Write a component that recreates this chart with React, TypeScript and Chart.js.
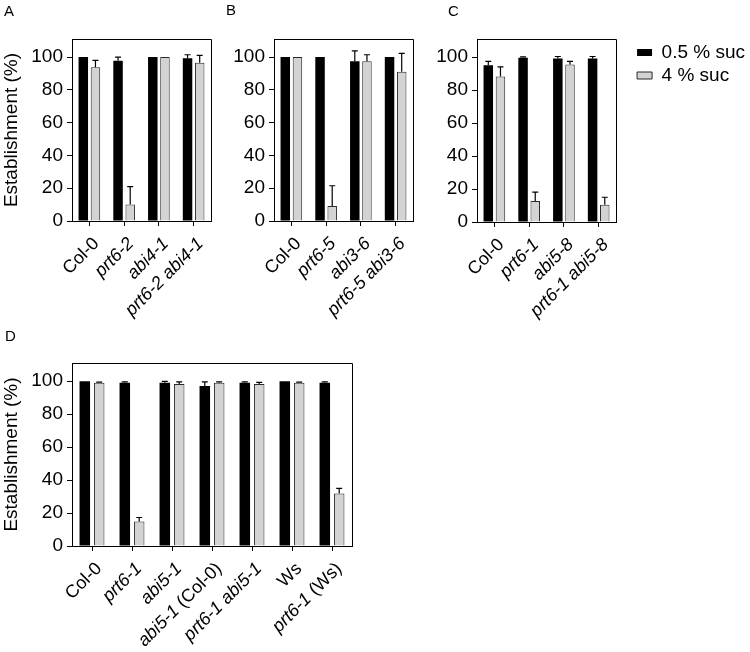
import React, { useEffect, useRef } from 'react';
import { Chart, registerables } from 'chart.js';

Chart.register(...registerables);

const FAMILY = "Arial, 'Liberation Sans', Helvetica, sans-serif";
Chart.defaults.font.family = FAMILY;
Chart.defaults.color = '#000';

// ---- data ----
const SERIES_NAMES = ['0.5 % suc', '4 % suc'];
const Y_TICKS = [0, 20, 40, 60, 80, 100];
const Y_MAX = 111;
const Y_TITLE = 'Establishment (%)';
const UPRIGHT_LABELS = ['Col-0', 'Ws'];

const A_LABELS = ['Col-0', 'prt6-2', 'abi4-1', 'prt6-2 abi4-1'];
const A_LOW = [100, 97.8, 100, 99.2];
const A_LOW_ERR = [0, 2.2, 0, 2.2];
const A_HIGH = [93.7, 10, 100, 96.5];
const A_HIGH_ERR = [4.3, 11, 0, 4.5];

const B_LABELS = ['Col-0', 'prt6-5', 'abi3-6', 'prt6-5 abi3-6'];
const B_LOW = [100, 100, 97.4, 100];
const B_LOW_ERR = [0, 0, 6.3, 0];
const B_HIGH = [100, 9.1, 97.4, 91];
const B_HIGH_ERR = [0, 12.4, 4, 11.2];

const C_LABELS = ['Col-0', 'prt6-1', 'abi5-8', 'prt6-1 abi5-8'];
const C_LOW = [95.1, 99.6, 99.2, 99.2];
const C_LOW_ERR = [2.3, 0.6, 1.2, 1.2];
const C_HIGH = [88.2, 12.8, 95.5, 10.5];
const C_HIGH_ERR = [5.9, 5.3, 1.9, 4.5];

const D_LABELS = ['Col-0', 'prt6-1', 'abi5-1', 'abi5-1 (Col-0)', 'prt6-1 abi5-1', 'Ws', 'prt6-1 (Ws)'];
const D_LOW = [100, 99, 99, 97, 99, 100, 99];
const D_LOW_ERR = [0, 0.6, 0.8, 2.6, 0.6, 0, 0.5];
const D_HIGH = [99, 14.8, 98.2, 99, 98.2, 99, 31.9];
const D_HIGH_ERR = [0.4, 2.5, 1.4, 0.5, 1, 0.4, 3.1];

// ---- legend geometry ----
const LEG_FONT = 19;
const LEG_BOX_W = 15;
const LEG_BOX_H = 7;
const LEG_PAD = 4;
const C_LEFT = 420;
const C_PLOT_RIGHT = 196; // relative to canvas C
const C_LEGEND_LEFT = 213; // relative to canvas C

function measureLegendWidth(): number {
  const cv = document.createElement('canvas');
  const cx = cv.getContext('2d') as CanvasRenderingContext2D;
  cx.font = `${LEG_FONT}px ${FAMILY}`;
  const tw = Math.max(...SERIES_NAMES.map((s) => cx.measureText(s).width));
  return LEG_PAD + LEG_BOX_W + LEG_FONT / 2 + tw + 10;
}

// ---- plugins ----
const errorBars = {
  id: 'errorBars',
  afterDatasetsDraw(chart: any) {
    const ctx = chart.ctx;
    const ys = chart.scales.y;
    ctx.save();
    ctx.strokeStyle = '#000';
    ctx.lineWidth = 1.2;
    chart.data.datasets.forEach((ds: any, di: number) => {
      const meta = chart.getDatasetMeta(di);
      meta.data.forEach((el: any, j: number) => {
        const e = ds.errors ? ds.errors[j] : 0;
        if (!e) return;
        const top = ys.getPixelForValue(ds.data[j] + e);
        ctx.beginPath();
        ctx.moveTo(el.x, el.y);
        ctx.lineTo(el.x, top);
        ctx.moveTo(el.x - 3, top);
        ctx.lineTo(el.x + 3, top);
        ctx.stroke();
      });
    });
    ctx.restore();
  },
};

const frame = {
  id: 'frame',
  afterDraw(chart: any) {
    const { left, top, right, bottom } = chart.chartArea;
    const ctx = chart.ctx;
    ctx.save();
    ctx.strokeStyle = '#000';
    ctx.lineWidth = 1;
    ctx.beginPath();
    ctx.moveTo(Math.round(left) + 0.5, Math.round(top) + 0.5);
    ctx.lineTo(Math.round(right) + 0.5, Math.round(top) + 0.5);
    ctx.lineTo(Math.round(right) + 0.5, Math.round(bottom) + 0.5);
    ctx.stroke();
    ctx.restore();
  },
};

function segments(label: string): [string, boolean][] {
  if (UPRIGHT_LABELS.includes(label)) return [[label, false]];
  const k = label.indexOf(' (');
  if (k >= 0) return [[label.slice(0, k), true], [label.slice(k), false]];
  return [[label, true]];
}

const X_FONT = 18;
const xLabels = {
  id: 'xLabels',
  afterDraw(chart: any) {
    const xs = chart.scales.x;
    const ctx = chart.ctx;
    const labels: string[] = chart.data.labels;
    ctx.save();
    ctx.fillStyle = '#000';
    ctx.textBaseline = 'middle';
    ctx.textAlign = 'left';
    labels.forEach((lab, i) => {
      const x = xs.getPixelForTick(i);
      const y = xs.top;
      const segs = segments(lab);
      const fonts = segs.map(([, it]) => `${it ? 'italic ' : ''}${X_FONT}px ${FAMILY}`);
      let total = 0;
      const widths = segs.map(([t], k) => {
        ctx.font = fonts[k];
        const w = ctx.measureText(t).width;
        total += w;
        return w;
      });
      ctx.save();
      ctx.translate(x + 7, y + 20);
      ctx.rotate(-Math.PI / 4);
      let cx = -total;
      segs.forEach(([t], k) => {
        ctx.font = fonts[k];
        ctx.fillText(t, cx, 0);
        cx += widths[k];
      });
      ctx.restore();
    });
    ctx.restore();
  },
};

type PanelCfg = {
  labels: string[];
  low: number[];
  lowErr: number[];
  high: number[];
  highErr: number[];
  left: number;
  top: number;
  w: number;
  h: number;
  padTop: number;
  padRight: number;
  yWidth: number;
  xHeight: number;
  title: boolean;
  legend: boolean;
  catPct: number;
  barPct: number;
};

function makeConfig(c: PanelCfg): any {
  const scales: any = {
    x: {
      grid: { offset: false, drawOnChartArea: false, drawTicks: true, tickLength: 5, color: '#000', lineWidth: 1 },
      border: { color: '#000', width: 1 },
      ticks: { color: 'rgba(0,0,0,0)', autoSkip: false, maxRotation: 45, minRotation: 45, font: { size: X_FONT } },
      afterFit: (a: any) => { a.height = c.xHeight; },
    },
    y: {
      min: 0,
      max: Y_MAX,
      grid: { drawOnChartArea: false, drawTicks: true, tickLength: 5, color: '#000', lineWidth: 1 },
      border: { color: '#000', width: 1 },
      ticks: { color: '#000', font: { size: 19 }, padding: 4, includeBounds: false },
      afterBuildTicks: (a: any) => { a.ticks = Y_TICKS.map((v) => ({ value: v })); },
      title: { display: c.title, text: Y_TITLE, font: { size: 19 }, color: '#000', padding: 0 },
      afterFit: (a: any) => { a.width = c.yWidth; },
    },
  };
  if (c.legend) {
    scales.spacer = {
      type: 'linear',
      position: 'right',
      display: true,
      grid: { display: false, drawTicks: false },
      border: { display: false },
      ticks: { display: false },
      afterFit: (a: any) => { a.width = C_LEGEND_LEFT - C_PLOT_RIGHT; },
    };
  }
  return {
    type: 'bar',
    data: {
      labels: c.labels,
      datasets: [
        {
          label: SERIES_NAMES[0], data: c.low, errors: c.lowErr,
          backgroundColor: '#000', borderColor: '#000', borderWidth: 0,
          categoryPercentage: c.catPct, barPercentage: c.barPct,
        },
        {
          label: SERIES_NAMES[1], data: c.high, errors: c.highErr,
          backgroundColor: '#d3d3d3', borderColor: '#2a2a2a', borderWidth: 1,
          categoryPercentage: c.catPct, barPercentage: c.barPct,
        },
      ],
    },
    options: {
      responsive: false,
      animation: false,
      events: [],
      layout: { padding: { top: c.padTop, right: c.legend ? 0 : c.padRight, left: 0, bottom: 0 } },
      plugins: {
        legend: c.legend
          ? {
              display: true,
              position: 'right',
              align: 'start',
              maxWidth: 400,
              labels: { boxWidth: LEG_BOX_W, boxHeight: LEG_BOX_H, padding: LEG_PAD, font: { size: LEG_FONT }, color: '#000' },
            }
          : { display: false },
        tooltip: { enabled: false },
      },
      scales,
    },
    plugins: [errorBars, frame, xLabels],
  };
}

function Panel({ cfg }: { cfg: PanelCfg }) {
  const ref = useRef<HTMLCanvasElement>(null);
  useEffect(() => {
    const chart = new Chart(ref.current as HTMLCanvasElement, makeConfig(cfg));
    return () => chart.destroy();
  }, []);
  return (
    <canvas
      ref={ref}
      width={cfg.w}
      height={cfg.h}
      style={{ position: 'absolute', left: cfg.left, top: cfg.top, width: cfg.w, height: cfg.h }}
    />
  );
}

const PANEL_A: PanelCfg = {
  labels: A_LABELS, low: A_LOW, lowErr: A_LOW_ERR, high: A_HIGH, highErr: A_HIGH_ERR,
  left: 0, top: 0, w: 225, h: 340, padTop: 39, padRight: 14, yWidth: 72, xHeight: 119,
  title: true, legend: false, catPct: 0.7, barPct: 0.78,
};
const PANEL_B: PanelCfg = {
  labels: B_LABELS, low: B_LOW, lowErr: B_LOW_ERR, high: B_HIGH, highErr: B_HIGH_ERR,
  left: 210, top: 0, w: 220, h: 340, padTop: 39, padRight: 17, yWidth: 64, xHeight: 119,
  title: false, legend: false, catPct: 0.7, barPct: 0.78,
};
const PANEL_D: PanelCfg = {
  labels: D_LABELS, low: D_LOW, lowErr: D_LOW_ERR, high: D_HIGH, highErr: D_HIGH_ERR,
  left: 0, top: 330, w: 370, h: 322, padTop: 33, padRight: 18, yWidth: 72, xHeight: 106,
  title: true, legend: false, catPct: 0.72, barPct: 0.73,
};

const letterStyle = (left: number, top: number): React.CSSProperties => ({
  position: 'absolute', left, top, fontFamily: FAMILY, fontSize: 15, lineHeight: '15px', color: '#000',
});

export default function App() {
  const lw = measureLegendWidth();
  const PANEL_C: PanelCfg = {
    labels: C_LABELS, low: C_LOW, lowErr: C_LOW_ERR, high: C_HIGH, highErr: C_HIGH_ERR,
    left: C_LEFT, top: 0, w: Math.ceil(C_LEGEND_LEFT + lw), h: 340, padTop: 39, padRight: 0, yWidth: 57, xHeight: 118,
    title: false, legend: true, catPct: 0.7, barPct: 0.78,
  };
  return (
    <div style={{ position: 'absolute', left: 0, top: 0, width: 750, height: 652, background: '#fff', overflow: 'hidden' }}>
      <Panel cfg={PANEL_A} />
      <Panel cfg={PANEL_B} />
      <Panel cfg={PANEL_C} />
      <Panel cfg={PANEL_D} />
      <div style={letterStyle(4, 3)}>A</div>
      <div style={letterStyle(226, 2)}>B</div>
      <div style={letterStyle(448, 3)}>C</div>
      <div style={letterStyle(5, 328)}>D</div>
    </div>
  );
}
